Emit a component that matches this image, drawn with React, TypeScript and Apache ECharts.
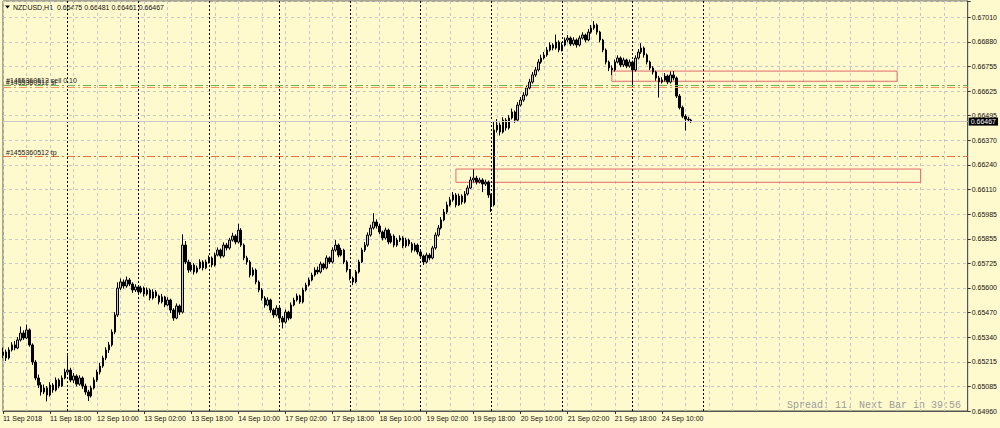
import React, { useEffect, useRef } from 'react';
import * as echarts from 'echarts';

const SYMBOL_TITLE = 'NZDUSD,H1  0.66475 0.66481 0.66461 0.66467';
const FOOTER_TEXT = 'Spread: 11. Next Bar in 39:56';
const POINT = 0.00001;

// y axis (price) ticks, as printed on the right scale
const Y_MIN = 0.6496;
const Y_MAX = 0.67095;
const Y_STEP = 0.00128125;
const yTickLabels = ['0.64960', '0.65085', '0.65215', '0.65340', '0.65470', '0.65600', '0.65725', '0.65855', '0.65985', '0.66110', '0.66240', '0.66370', '0.66495', '0.66625', '0.66755', '0.66880', '0.67010'];

// x axis labels, one every 16 hourly bars
const xTickLabels = ['11 Sep 2018', '11 Sep 18:00', '12 Sep 10:00', '13 Sep 02:00', '13 Sep 18:00', '14 Sep 10:00', '17 Sep 02:00', '17 Sep 18:00', '18 Sep 10:00', '19 Sep 02:00', '19 Sep 18:00', '20 Sep 10:00', '21 Sep 02:00', '21 Sep 18:00', '24 Sep 10:00'];
const LABEL_EVERY = 16;
const GRID_EVERY = 8;
const SLOTS = 329; // bars + empty chart shift area
const daySeparatorBars = [22, 46, 70, 94, 118, 142, 166, 190, 214, 238];

// OHLC in points (1 point = 0.00001)
const opens = [
  65250, 65267, 65236, 65278, 65304, 65288, 65330, 65366, 65340, 65382,
  65304, 65215, 65132, 65095, 65059, 65080, 65043, 65095, 65069, 65121,
  65090, 65132, 65163, 65173, 65121, 65142, 65100, 65132, 65090, 65059,
  65038, 65080, 65121, 65163, 65194, 65236, 65278, 65304, 65371, 65460,
  65600, 65632, 65611, 65642, 65621, 65590, 65606, 65580, 65600, 65569,
  65590, 65548, 65580, 65559, 65528, 65554, 65512, 65538, 65486, 65444,
  65507, 65475, 65824, 65736, 65694, 65720, 65684, 65705, 65736, 65705,
  65736, 65757, 65720, 65772, 65798, 65767, 65824, 65809, 65850, 65871,
  65840, 65902, 65824, 65757, 65736, 65668, 65694, 65632, 65590, 65548,
  65512, 65538, 65486, 65460, 65496, 65444, 65423, 65475, 65444, 65512,
  65538, 65559, 65528, 65590, 65616, 65642, 65668, 65694, 65684, 65725,
  65705, 65757, 65736, 65798, 65824, 65772, 65798, 65736, 65694, 65652,
  65632, 65684, 65736, 65798, 65824, 65876, 65913, 65944, 65923, 65892,
  65861, 65902, 65840, 65871, 65824, 65850, 65861, 65819, 65850, 65830,
  65798, 65824, 65788, 65767, 65736, 65772, 65757, 65809, 65876, 65913,
  65955, 65996, 66033, 66059, 66085, 66033, 66079, 66048, 66090, 66121,
  66163, 66173, 66152, 66163, 66142, 66152, 66085, 66033, 66423, 66449,
  66413, 66475, 66434, 66486, 66517, 66475, 66553, 66579, 66605, 66642,
  66673, 66710, 66736, 66777, 66798, 66814, 66840, 66866, 66850, 66881,
  66840, 66866, 66892, 66902, 66871, 66892, 66866, 66902, 66918, 66892,
  66933, 66954, 66970, 66933, 66892, 66840, 66777, 66746, 66736, 66777,
  66798, 66762, 66788, 66756, 66777, 66736, 66798, 66829, 66850, 66814,
  66777, 66746, 66725, 66694, 66673, 66683, 66704, 66673, 66710, 66694,
  66600, 66540, 66495, 66480, 66475,
];
const closes = [
  65267, 65236, 65278, 65304, 65288, 65330, 65366, 65340, 65382, 65304,
  65215, 65132, 65095, 65059, 65080, 65043, 65095, 65069, 65121, 65090,
  65132, 65163, 65173, 65121, 65142, 65100, 65132, 65090, 65059, 65038,
  65080, 65121, 65163, 65194, 65236, 65278, 65304, 65371, 65460, 65600,
  65632, 65611, 65642, 65621, 65590, 65606, 65580, 65600, 65569, 65590,
  65548, 65580, 65559, 65528, 65554, 65512, 65538, 65486, 65444, 65507,
  65475, 65824, 65736, 65694, 65720, 65684, 65705, 65736, 65705, 65736,
  65757, 65720, 65772, 65798, 65767, 65824, 65809, 65850, 65871, 65840,
  65902, 65824, 65757, 65736, 65668, 65694, 65632, 65590, 65548, 65512,
  65538, 65486, 65460, 65496, 65444, 65423, 65475, 65444, 65512, 65538,
  65559, 65528, 65590, 65616, 65642, 65668, 65694, 65684, 65725, 65705,
  65757, 65736, 65798, 65824, 65772, 65798, 65736, 65694, 65652, 65632,
  65684, 65736, 65798, 65824, 65876, 65913, 65944, 65923, 65892, 65861,
  65902, 65840, 65871, 65824, 65850, 65861, 65819, 65850, 65830, 65798,
  65824, 65788, 65767, 65736, 65772, 65757, 65809, 65876, 65913, 65955,
  65996, 66033, 66059, 66085, 66033, 66079, 66048, 66090, 66121, 66163,
  66173, 66152, 66163, 66142, 66152, 66085, 66033, 66423, 66449, 66413,
  66475, 66434, 66486, 66517, 66475, 66553, 66579, 66605, 66642, 66673,
  66710, 66736, 66777, 66798, 66814, 66840, 66866, 66850, 66881, 66840,
  66866, 66892, 66902, 66871, 66892, 66866, 66902, 66918, 66892, 66933,
  66954, 66970, 66933, 66892, 66840, 66777, 66746, 66736, 66777, 66798,
  66762, 66788, 66756, 66777, 66736, 66798, 66829, 66850, 66814, 66777,
  66746, 66725, 66694, 66673, 66683, 66704, 66673, 66710, 66694, 66600,
  66540, 66495, 66480, 66476, 66467,
];
const highs = [
  65290, 65280, 65292, 65318, 65325, 65345, 65400, 65380, 65410, 65390,
  65312, 65225, 65150, 65110, 65098, 65090, 65110, 65105, 65135, 65130,
  65145, 65180, 65250, 65185, 65158, 65150, 65146, 65140, 65102, 65070,
  65092, 65135, 65175, 65210, 65248, 65292, 65320, 65385, 65475, 65630,
  65650, 65645, 65660, 65652, 65630, 65620, 65615, 65612, 65608, 65603,
  65598, 65594, 65590, 65566, 65570, 65560, 65552, 65545, 65495, 65520,
  65515, 65880, 65845, 65748, 65735, 65730, 65718, 65750, 65745, 65748,
  65770, 65765, 65785, 65812, 65806, 65838, 65835, 65862, 65888, 65880,
  65935, 65912, 65832, 65768, 65745, 65708, 65702, 65640, 65600, 65558,
  65552, 65545, 65495, 65510, 65505, 65455, 65488, 65482, 65525, 65550,
  65572, 65566, 65602, 65628, 65655, 65680, 65708, 65712, 65738, 65732,
  65770, 65765, 65812, 65850, 65832, 65810, 65805, 65745, 65700, 65660,
  65695, 65748, 65810, 65840, 65890, 65930, 65990, 65958, 65935, 65900,
  65915, 65910, 65885, 65880, 65862, 65875, 65870, 65862, 65858, 65840,
  65836, 65832, 65796, 65775, 65785, 65782, 65820, 65890, 65928, 65970,
  66012, 66050, 66075, 66100, 66095, 66092, 66088, 66105, 66135, 66180,
  66218, 66185, 66175, 66172, 66165, 66160, 66092, 66470, 66480, 66462,
  66490, 66485, 66500, 66535, 66525, 66568, 66595, 66620, 66658, 66690,
  66725, 66752, 66792, 66815, 66830, 66855, 66880, 66875, 66920, 66890,
  66880, 66905, 66918, 66910, 66906, 66900, 66915, 66932, 66925, 66948,
  66970, 66990, 66978, 66940, 66898, 66848, 66785, 66760, 66790, 66812,
  66806, 66800, 66795, 66790, 66785, 66812, 66845, 66875, 66858, 66822,
  66785, 66755, 66732, 66705, 66698, 66720, 66712, 66728, 66730, 66702,
  66610, 66550, 66505, 66492, 66481,
];
const lows = [
  65235, 65220, 65228, 65270, 65276, 65282, 65322, 65330, 65335, 65295,
  65200, 65120, 65080, 65040, 65048, 65010, 65035, 65055, 65062, 65078,
  65085, 65125, 65150, 65110, 65105, 65088, 65092, 65075, 65045, 65012,
  65030, 65072, 65112, 65150, 65185, 65225, 65262, 65295, 65360, 65450,
  65590, 65598, 65602, 65610, 65575, 65580, 65568, 65572, 65556, 65560,
  65536, 65540, 65548, 65515, 65520, 65500, 65505, 65470, 65430, 65438,
  65460, 65468, 65725, 65680, 65685, 65670, 65676, 65698, 65692, 65698,
  65728, 65708, 65712, 65765, 65755, 65760, 65796, 65800, 65842, 65828,
  65832, 65815, 65745, 65722, 65655, 65660, 65620, 65578, 65535, 65498,
  65505, 65472, 65445, 65452, 65430, 65390, 65415, 65432, 65438, 65505,
  65530, 65518, 65520, 65582, 65608, 65635, 65660, 65672, 65676, 65695,
  65698, 65725, 65728, 65790, 65760, 65765, 65725, 65682, 65640, 65615,
  65625, 65676, 65730, 65788, 65815, 65868, 65905, 65910, 65880, 65848,
  65852, 65828, 65832, 65812, 65815, 65840, 65808, 65810, 65818, 65785,
  65790, 65775, 65755, 65720, 65728, 65745, 65750, 65800, 65868, 65905,
  65948, 65985, 66025, 66050, 66020, 66028, 66035, 66040, 66082, 66115,
  66150, 66140, 66145, 66100, 66132, 66070, 65996, 66025, 66410, 66395,
  66405, 66420, 66425, 66478, 66460, 66468, 66545, 66570, 66598, 66635,
  66665, 66700, 66728, 66768, 66790, 66805, 66832, 66838, 66842, 66828,
  66832, 66858, 66880, 66860, 66862, 66852, 66858, 66895, 66880, 66885,
  66925, 66945, 66920, 66880, 66828, 66765, 66730, 66710, 66728, 66770,
  66750, 66752, 66745, 66748, 66650, 66728, 66790, 66820, 66800, 66765,
  66735, 66712, 66680, 66592, 66665, 66675, 66662, 66665, 66682, 66590,
  66530, 66485, 66420, 66468, 66461,
];

// trade levels
const ORDER_ID = '#1455360512';
const openPrice = 0.66657;
const stopPrice = 0.66645;
const takeProfit = 0.66284;
const bidPrice = 0.66467;

// rectangles: [fromBar, topPrice, toBar, bottomPrice]
const zones = [
  [207, 0.6673, 304, 0.66677],
  [154, 0.6622, 312, 0.66151],
];

const MONTHS = ['Jan', 'Feb', 'Mar', 'Apr', 'May', 'Jun', 'Jul', 'Aug', 'Sep', 'Oct', 'Nov', 'Dec'];
function buildCategories(): string[] {
  const out: string[] = [];
  let t = Date.UTC(2018, 8, 11, 2);
  while (out.length < SLOTS) {
    const d = new Date(t);
    const wd = d.getUTCDay();
    if (wd !== 0 && wd !== 6) {
      const hh = String(d.getUTCHours()).padStart(2, '0');
      out.push(`${d.getUTCDate()} ${MONTHS[d.getUTCMonth()]} ${hh}:00`);
    }
    t += 3600000;
  }
  return out;
}

const FONT = '"Liberation Sans", Arial, sans-serif';
const BG = '#FFFACD';

export default function App() {
  const ref = useRef<HTMLDivElement>(null);
  useEffect(() => {
    if (!ref.current) return;
    const chart = echarts.init(ref.current, undefined, { renderer: 'svg' });
    const categories = buildCategories();
    const candles = opens.map((o, i) => [o * POINT, closes[i] * POINT, lows[i] * POINT, highs[i] * POINT]);
    const isLabelIdx = (i: number) => i % LABEL_EVERY === 0 && i / LABEL_EVERY < xTickLabels.length;
    const dashDot = [8, 3, 2, 3];
    const orderLabel = (text: string) => ({
      show: true,
      formatter: text,
      position: 'insideStartTop',
      distance: [3, 1],
      color: '#222',
      fontSize: 7,
      fontFamily: FONT,
    });

    chart.setOption({
      animation: false,
      backgroundColor: BG,
      grid: { left: 2.5, right: 31, top: 1, bottom: 17, show: true, borderColor: '#555', borderWidth: 1, backgroundColor: 'transparent' },
      xAxis: {
        type: 'category',
        data: categories,
        boundaryGap: false,
        axisLine: { show: true, lineStyle: { color: '#555', width: 1 } },
        axisTick: { show: true, interval: (i: number) => isLabelIdx(i), length: 3, lineStyle: { color: '#333' } },
        axisLabel: {
          interval: (i: number) => isLabelIdx(i),
          formatter: (_v: string, i: number) => xTickLabels[i / LABEL_EVERY] ?? '',
          align: 'left',
          margin: 4,
          fontSize: 7,
          fontFamily: FONT,
          color: '#111',
        },
        splitLine: { show: true, interval: (i: number) => i % GRID_EVERY === 0, lineStyle: { color: '#c8c8c8', type: [3, 3], width: 1 } },
      },
      yAxis: {
        type: 'value',
        position: 'right',
        min: Y_MIN,
        max: Y_MAX,
        interval: Y_STEP,
        scale: true,
        axisLine: { show: true, lineStyle: { color: '#555', width: 1 } },
        axisTick: { show: true, length: 3, lineStyle: { color: '#333' } },
        axisLabel: {
          margin: 4,
          fontSize: 7,
          fontFamily: FONT,
          color: '#111',
          formatter: (v: number) => {
            const k = Math.round((v - Y_MIN) / Y_STEP);
            if (k < 0 || k >= yTickLabels.length) return '';
            if (Math.abs(Y_MIN + k * Y_STEP - v) > 1e-7) return '';
            return yTickLabels[k];
          },
        },
        splitLine: { show: true, lineStyle: { color: '#c8c8c8', type: [3, 3], width: 1 } },
      },
      series: [
        {
          type: 'line',
          data: [],
          silent: true,
          markLine: {
            z: 1,
            silent: true,
            symbol: 'none',
            precision: 5,
            label: { show: false },
            lineStyle: { color: '#000', type: [2, 2], width: 1 },
            data: daySeparatorBars.map((b) => ({ xAxis: b })),
          },
        },
        {
          type: 'candlestick',
          data: candles,
          barWidth: 2,
          itemStyle: { color: '#c8c8c8', color0: '#000', borderColor: '#000', borderColor0: '#000', borderWidth: 1 },
          markArea: {
            silent: true,
            precision: 5,
            itemStyle: { color: 'rgba(0,0,0,0)', borderColor: '#e06a6a', borderWidth: 1 },
            data: zones.map((z) => [{ xAxis: z[0], yAxis: z[1] }, { xAxis: z[2], yAxis: z[3] }]),
          },
        },
        {
          type: 'line',
          data: [],
          silent: true,
          markLine: {
            z: 6,
            silent: true,
            symbol: 'none',
            precision: 5,
            data: [
              { yAxis: bidPrice, lineStyle: { color: '#c8c8c8', type: 'solid', width: 1 },
                label: {
                  show: true,
                  position: 'end',
                  distance: 1,
                  formatter: bidPrice.toFixed(5),
                  backgroundColor: '#000',
                  color: '#fff',
                  padding: [0, 2, 0, 2],
                  lineHeight: 8,
                  fontSize: 7,
                  fontFamily: FONT,
                },
              },
              { yAxis: takeProfit, lineStyle: { color: '#ea7040', type: dashDot, width: 1 }, label: orderLabel(`${ORDER_ID} tp`) },
              { yAxis: stopPrice, lineStyle: { color: '#f5995c', type: dashDot, width: 1 }, label: orderLabel(`${ORDER_ID} sl`) },
              { yAxis: openPrice, lineStyle: { color: '#6fb44f', type: dashDot, width: 1 }, label: orderLabel(`${ORDER_ID} sell 0.10`) },
            ],
          },
        },
      ],
      graphic: [
        { type: 'polygon', shape: { points: [[5, 5.5], [10, 5.5], [7.5, 8.5]] }, style: { fill: '#000' } },
        { type: 'text', x: 13, y: 7, style: { text: SYMBOL_TITLE, fontSize: 7, fontFamily: FONT, fill: '#111', verticalAlign: 'middle' } },
        { type: 'text', x: 961, y: 405.5, style: { text: FOOTER_TEXT, fontSize: 10, fontFamily: '"Liberation Mono", "DejaVu Sans Mono", monospace', fill: '#9a9a9a', align: 'right', verticalAlign: 'middle' } },
      ],
    });
    return () => chart.dispose();
  }, []);
  return <div ref={ref} style={{ position: 'fixed', left: 0, top: 0, width: 1000, height: 428, background: BG }} />;
}
